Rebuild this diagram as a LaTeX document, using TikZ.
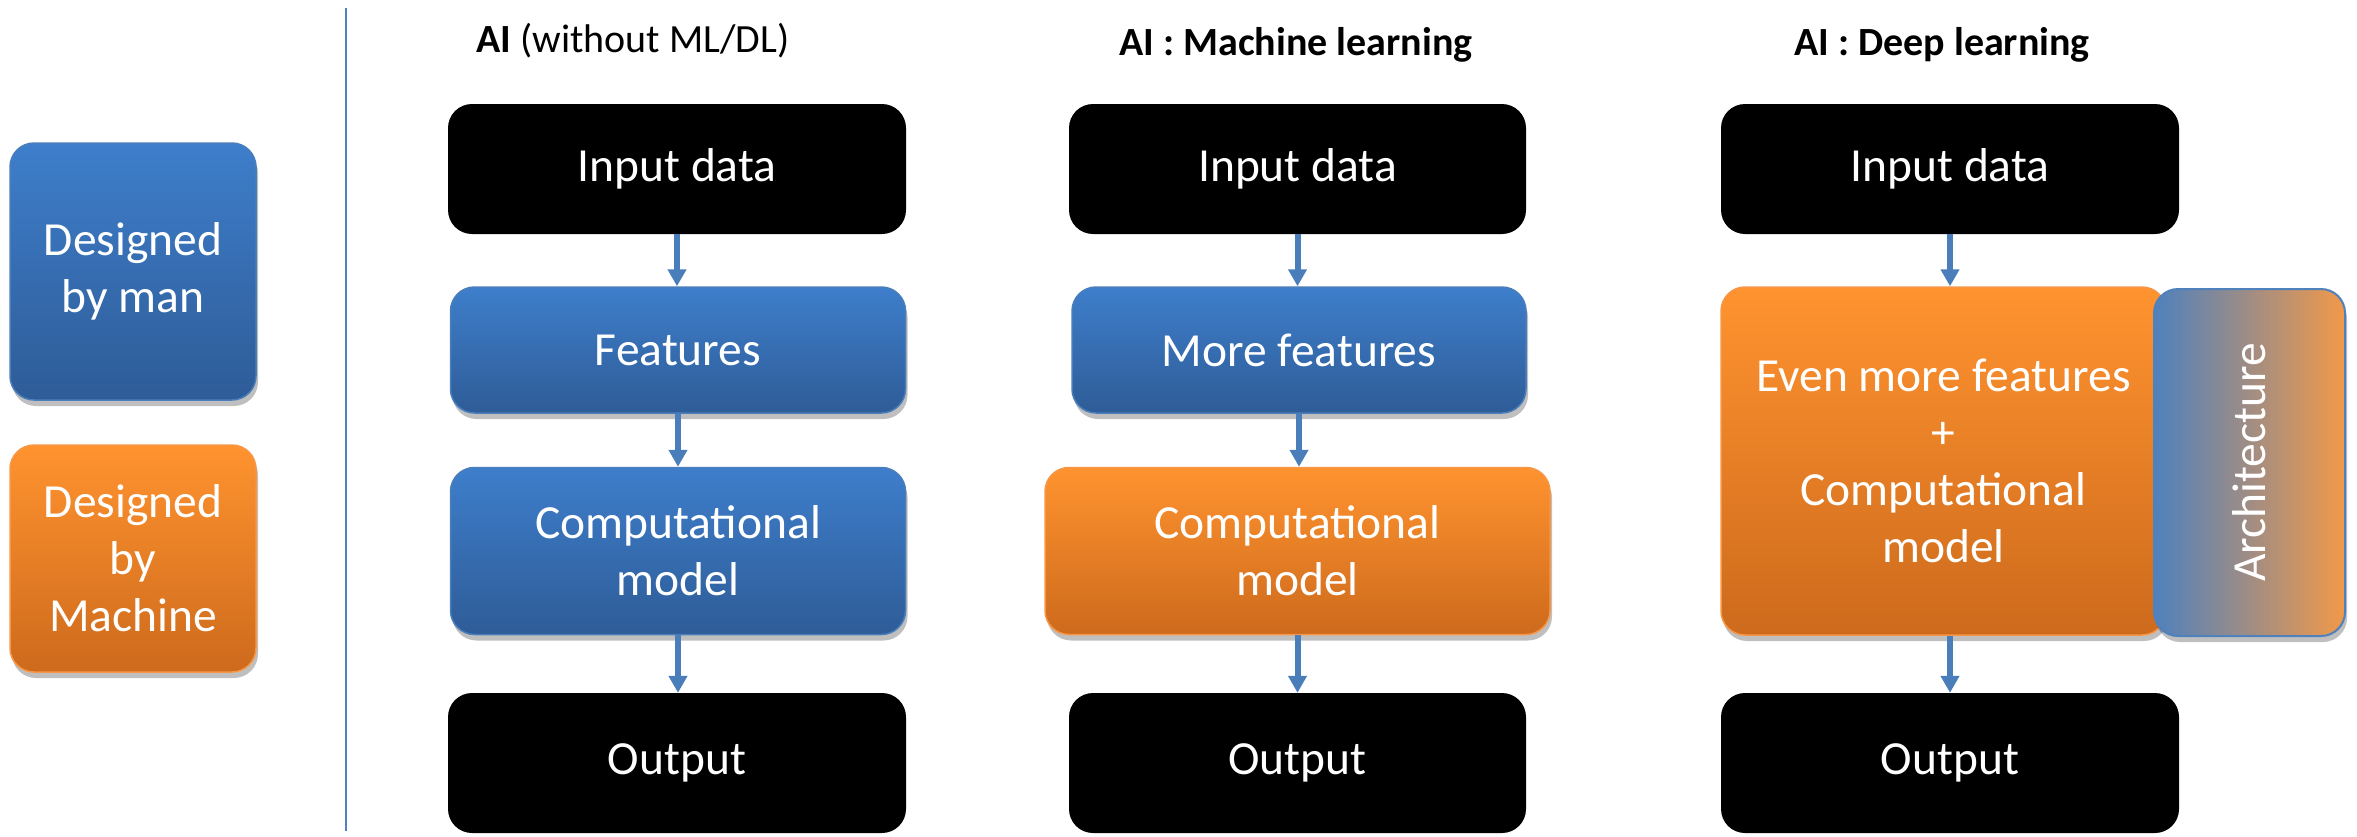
\documentclass[tikz,border=0pt]{standalone}
\usepackage{fontspec}
\setmainfont{Carlito}
\usetikzlibrary{shadows,arrows.meta}
\definecolor{bluetop}{HTML}{3E7ECB}
\definecolor{bluebot}{HTML}{2E5C97}
\definecolor{blueedge}{HTML}{4A7EBB}
\definecolor{orgtop}{HTML}{FF932F}
\definecolor{orgbot}{HTML}{CD6A1C}
\definecolor{orgedge}{HTML}{F79646}
\definecolor{arrowblue}{HTML}{4A7EBB}
\definecolor{archblue}{HTML}{4F81BD}
\definecolor{archorange}{HTML}{F2994A}
\begin{document}
\begin{tikzpicture}[x=1pt,y=-1pt,
  box/.style={rectangle, rounded corners=24pt, align=center, text=white,
    font=\fontsize{47.5}{57}\selectfont, inner sep=0pt},
  blackbox/.style={box, fill=black},
  shad/.style={drop shadow={shadow xshift=2pt, shadow yshift=-6pt, opacity=0.25, fill=black}},
  bluebox/.style={box, top color=bluetop, bottom color=bluebot, draw=blueedge, line width=1.5pt, shad},
  orangebox/.style={box, top color=orgtop, bottom color=orgbot, draw=orgedge, line width=1.5pt, shad},
  archbox/.style={box, left color=archblue, right color=archorange, draw=archblue, line width=2pt, shad},
  title/.style={font=\fontsize{40}{48}\selectfont, inner sep=0pt, anchor=base},
  flow/.style={draw=arrowblue, line width=6pt, -{Triangle[width=18pt,length=17pt]}},
  divider/.style={draw=archblue, line width=2pt}
]
\useasboundingbox (0,0) rectangle (2357,836);

% legend
\node[bluebox, minimum width=246pt, minimum height=257pt] (lman) at (133,271.5) {Designed\\by man};
\node[orangebox, minimum width=246pt, minimum height=227pt] (lmach) at (133,558.5) {Designed\\by\\Machine};

% divider
\coordinate (dtop) at (346,8);
\coordinate (dbot) at (346,831);
\draw[divider] (dtop) -- (dbot);

% titles
\node[title] (t1) at (633,52) {\textbf{AI} (without ML/DL)};
\node[title] (t2) at (1296,55) {\textbf{AI : Machine learning}};
\node[title] (t3) at (1942,55) {\textbf{AI : Deep learning}};

% column 1
\node[blackbox, minimum width=458pt, minimum height=130pt] (in1) at (677,169) {Input data};
\node[bluebox, minimum width=455pt, minimum height=126pt] (f1) at (678,350) {Features};
\node[bluebox, minimum width=455pt, minimum height=167pt] (c1) at (678,551) {Computational\\model};
\node[blackbox, minimum width=458pt, minimum height=140pt] (o1) at (677,763) {Output};

% column 2
\node[blackbox, minimum width=457pt, minimum height=130pt] (in2) at (1297.5,169) {Input data};
\node[bluebox, minimum width=454pt, minimum height=126pt] (f2) at (1299,350) {More features};
\node[orangebox, minimum width=505pt, minimum height=167pt] (c2) at (1297.5,551) {Computational\\model};
\node[blackbox, minimum width=457pt, minimum height=140pt] (o2) at (1297.5,763) {Output};

% column 3
\node[blackbox, minimum width=458pt, minimum height=130pt] (in3) at (1950,169) {Input data};
\node[orangebox, minimum width=445pt, minimum height=348pt] (c3) at (1943.5,461) {Even more features\\+\\Computational\\model};
\node[archbox, minimum width=191pt, minimum height=347pt] (arch) at (2249.5,462.5) {};
\node[rotate=90, text=white, font=\fontsize{47.5}{57}\selectfont] (archtxt) at (arch.center) {Architecture};
\node[blackbox, minimum width=458pt, minimum height=140pt] (o3) at (1950,763) {Output};

% arrows
\draw[flow] (in1.south) -- (in1.south |- f1.north);
\draw[flow] (f1.south) -- (f1.south |- c1.north);
\draw[flow] (c1.south) -- (c1.south |- o1.north);
\draw[flow] (in2.south) -- (in2.south |- f2.north);
\draw[flow] (f2.south) -- (f2.south |- c2.north);
\draw[flow] (c2.south) -- (c2.south |- o2.north);
\draw[flow] (in3.south) -- (in3.south |- c3.north);
\draw[flow] (in3.south |- c3.south) -- (in3.south |- o3.north);
\end{tikzpicture}
\end{document}
